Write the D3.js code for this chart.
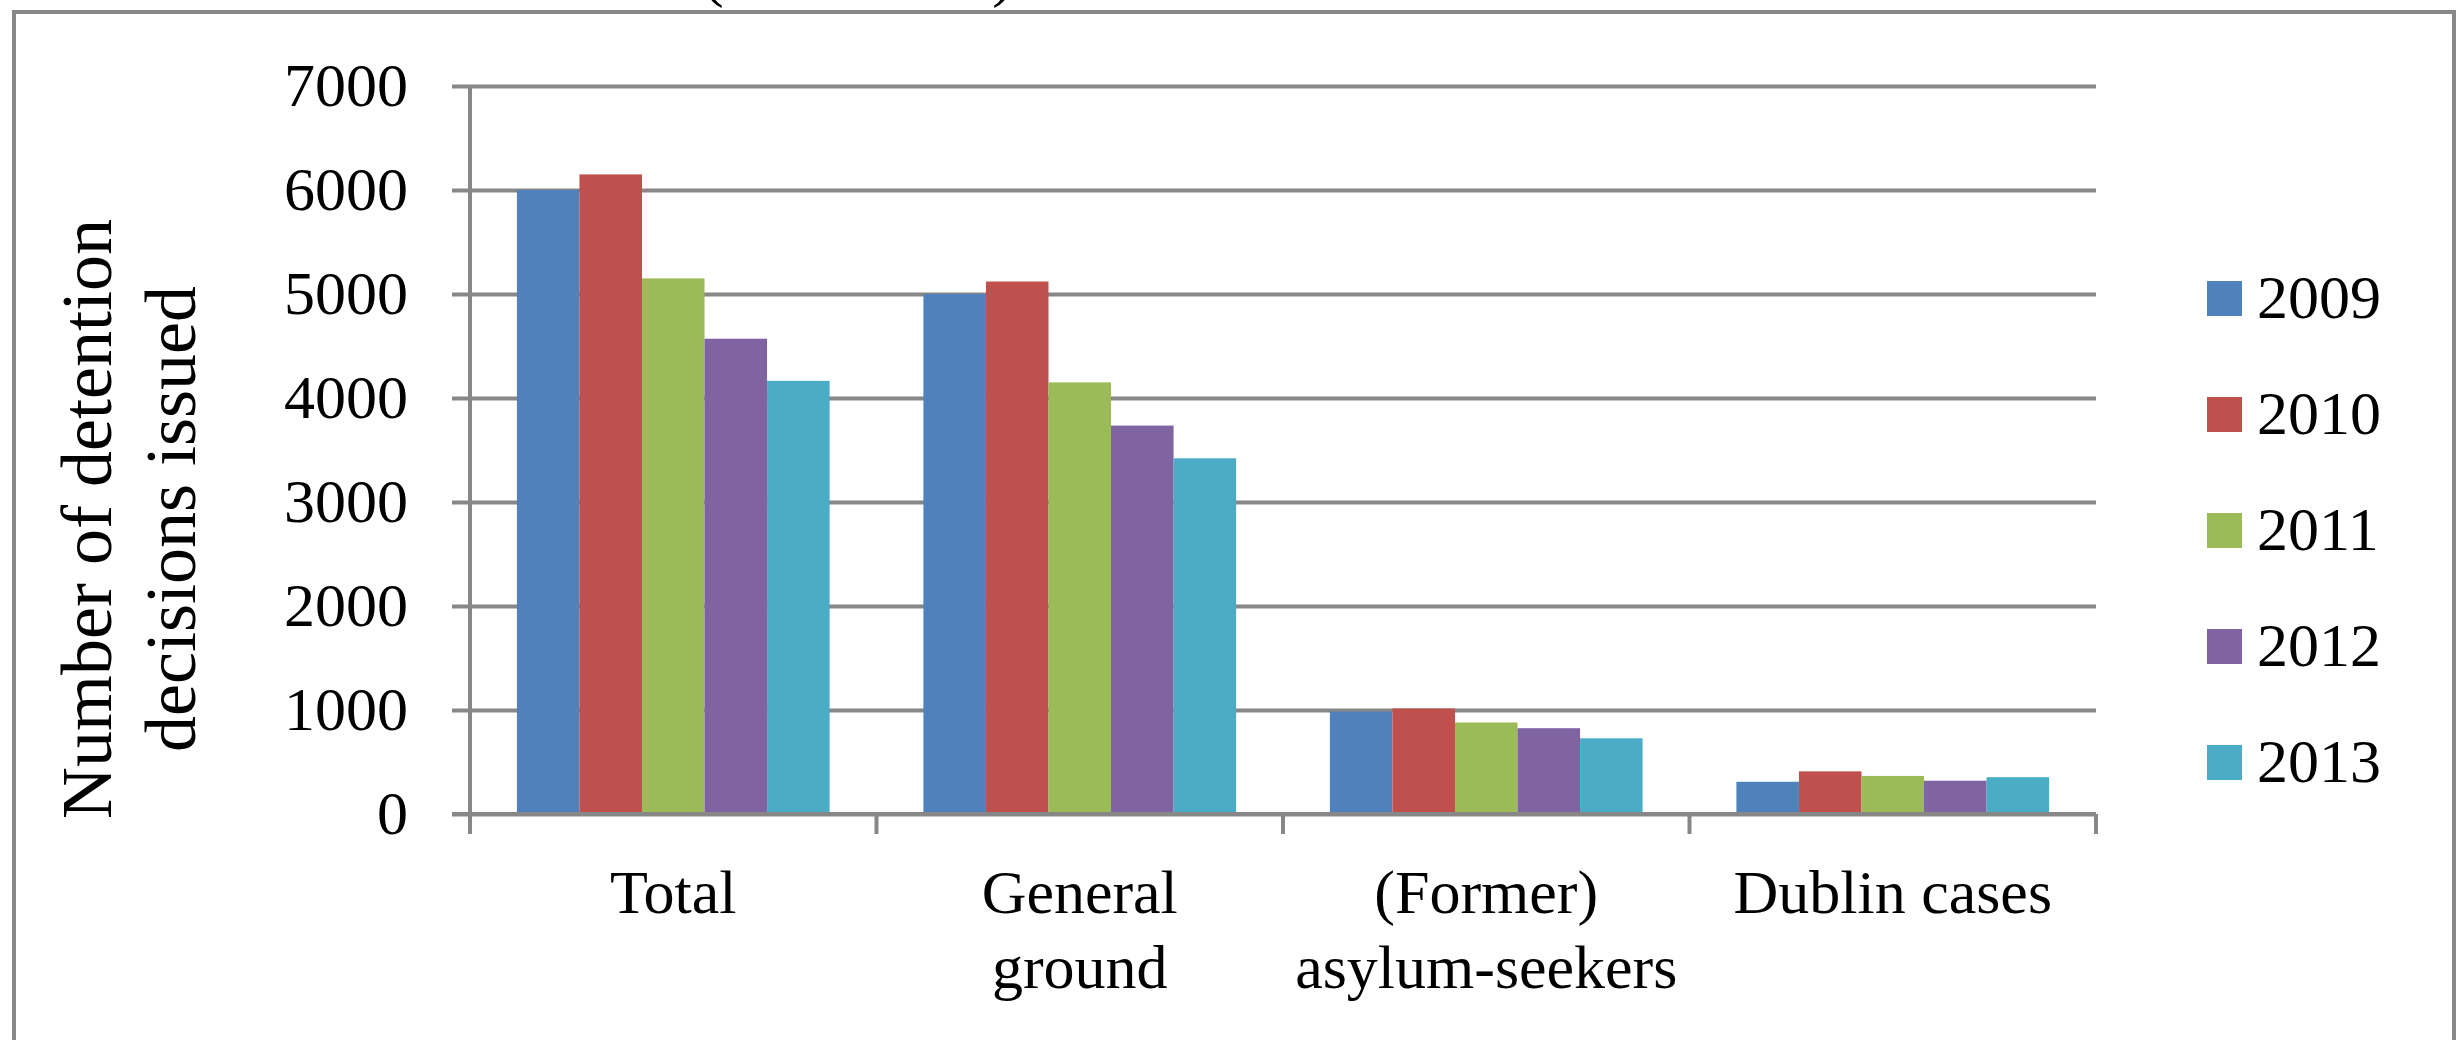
<!DOCTYPE html>
<html>
<head>
<meta charset="utf-8">
<script src="https://cdnjs.cloudflare.com/ajax/libs/d3/7.8.5/d3.min.js"></script>
<style>
  body { margin: 0; background: #fff; }
  text { font-family: "Liberation Serif", "Times New Roman", serif; fill: #000; }
</style>
</head>
<body>
<svg class="chart"></svg>
<script>
let width = 2458,
  height = 1040;

// data
let categories = ["Total", "General ground", "(Former) asylum-seekers", "Dublin cases"];
let categoryLines = [["Total"], ["General", "ground"], ["(Former)", "asylum-seekers"], ["Dublin cases"]];
let years = ["2009", "2010", "2011", "2012", "2013"];
let v2009 = [6000, 5000, 985, 310];
let v2010 = [6150, 5120, 1015, 410];
let v2011 = [5150, 4150, 880, 366];
let v2012 = [4570, 3735, 825, 320];
let v2013 = [4165, 3420, 728, 354];
let yTicks = [0, 1000, 2000, 3000, 4000, 5000, 6000, 7000];
let colors = ["#4F81BD", "#C0504D", "#9BBB59", "#8064A2", "#4BACC6"];

let series = [v2009, v2010, v2011, v2012, v2013];
let grey = "#878787";

let svg = d3.select(".chart").attr("width", width).attr("height", height);

// plot area
let plotLeft = 470, plotRight = 2096, plotTop = 86, plotBottom = 814;

let y = d3.scaleLinear().domain([0, 7000]).range([plotBottom, plotTop]);
let x0 = d3.scaleBand().domain(categories).range([plotLeft, plotRight]).padding(0);
let barW = x0.bandwidth() / 6.5; // excel gap width 150%
let x1 = d3.scaleBand().domain(years).range([barW * 0.75, x0.bandwidth() - barW * 0.75]).padding(0);
let color = d3.scaleOrdinal().domain(years).range(colors);

// title sits mostly above the picture, only the bottom of it shows
svg.append("text")
  .attr("x", 858)
  .attr("y", -5)
  .attr("text-anchor", "middle")
  .style("font-size", "62px")
  .text("(2009-2013)");

// outer chart frame
svg.append("rect")
  .attr("x", 14).attr("y", 12)
  .attr("width", 2440).attr("height", 1100)
  .attr("fill", "none")
  .attr("stroke", grey)
  .attr("stroke-width", 4);

// gridlines + y labels in one axis (ticks run from right edge to 18px past the y axis)
let yAxis = svg.append("g")
  .attr("transform", "translate(" + plotRight + ",0)")
  .call(d3.axisLeft(y).tickValues(yTicks).tickFormat(d3.format("d"))
    .tickSize(plotRight - plotLeft + 18).tickPadding(44));
yAxis.select(".domain").remove();
yAxis.selectAll(".tick line").attr("stroke", grey).attr("stroke-width", 4);
yAxis.selectAll(".tick text").style("font-size", "62px").attr("fill", "#000");

// bars
let groups = svg.selectAll(".group")
  .data(categories)
  .enter()
  .append("g")
  .attr("class", "group")
  .attr("transform", function (d) { return "translate(" + x0(d) + ",0)"; });

groups.selectAll("rect")
  .data(function (d, i) {
    return years.map(function (yr, j) { return { year: yr, value: series[j][i] }; });
  })
  .enter()
  .append("rect")
  .attr("x", function (d) { return x1(d.year); })
  .attr("y", function (d) { return y(d.value); })
  .attr("width", x1.bandwidth())
  .attr("height", function (d) { return y(0) - y(d.value); })
  .attr("fill", function (d) { return color(d.year); });

// axes lines
svg.append("line")
  .attr("x1", plotLeft).attr("x2", plotLeft)
  .attr("y1", plotTop).attr("y2", plotBottom + 20)
  .attr("stroke", grey).attr("stroke-width", 4);
svg.append("line")
  .attr("x1", plotLeft - 18).attr("x2", plotRight)
  .attr("y1", y(0)).attr("y2", y(0))
  .attr("stroke", grey).attr("stroke-width", 4);

// category boundary ticks
let bounds = categories.map(function (c) { return x0(c); }).concat([plotRight]);
svg.selectAll(".xtick")
  .data(bounds)
  .enter()
  .append("line")
  .attr("class", "xtick")
  .attr("x1", function (d) { return d; })
  .attr("x2", function (d) { return d; })
  .attr("y1", y(0))
  .attr("y2", y(0) + 20)
  .attr("stroke", grey)
  .attr("stroke-width", 4);

// category labels
svg.selectAll(".xlabel")
  .data(categories)
  .enter()
  .append("text")
  .attr("class", "xlabel")
  .attr("text-anchor", "middle")
  .style("font-size", "62px")
  .each(function (d, i) {
    let t = d3.select(this);
    categoryLines[i].forEach(function (line, k) {
      t.append("tspan")
        .attr("x", x0(d) + x0.bandwidth() / 2)
        .attr("y", 913 + k * 75)
        .text(line);
    });
  });

// y axis title
let yTitle = svg.append("text")
  .attr("transform", "translate(0,519) rotate(-90)")
  .attr("text-anchor", "middle")
  .style("font-size", "72px");
yTitle.append("tspan").attr("x", 0).attr("y", 111).text("Number of detention");
yTitle.append("tspan").attr("x", 0).attr("y", 195).text("decisions issued");

// legend
let legend = svg.selectAll(".legend")
  .data(years)
  .enter()
  .append("g")
  .attr("class", "legend")
  .attr("transform", function (d, i) { return "translate(2207," + (281 + i * 116) + ")"; });

legend.append("rect")
  .attr("width", 35)
  .attr("height", 35)
  .attr("fill", function (d) { return color(d); });

legend.append("text")
  .attr("x", 50)
  .attr("y", 37)
  .style("font-size", "62px")
  .text(function (d) { return d; });
</script>
</body>
</html>
